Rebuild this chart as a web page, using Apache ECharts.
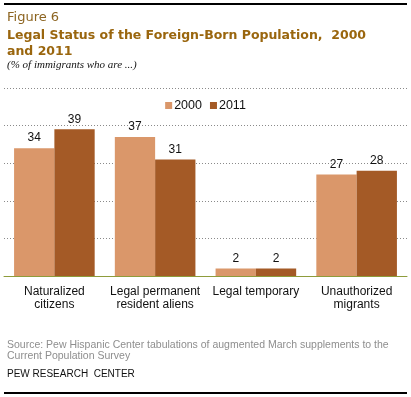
<!DOCTYPE html>
<html>
<head>
<meta charset="utf-8">
<script src="https://cdn.jsdelivr.net/npm/echarts@6/dist/echarts.min.js"></script>
<style>
  html, body { margin: 0; padding: 0; background: #fff; }
  #chart { width: 411px; height: 397px; }
</style>
</head>
<body>
<div id="chart"></div>
<script>
// legal status groups
var categories = ['Naturalized\ncitizens', 'Legal permanent\nresident aliens', 'Legal temporary', 'Unauthorized\nmigrants'];
var years = ['2000', '2011'];
var values2000 = [34, 37, 2, 27];
var values2011 = [39, 31, 2, 28];

var colors = ['#DA976A', '#A45A26'];
var sansFont = 'Liberation Sans';

var chart = echarts.init(document.getElementById('chart'), null, { renderer: 'canvas' });

var option = {
  animation: false,
  color: colors,
  title: [
    {
      text: 'Figure 6',
      left: 2, top: 6,
      textStyle: { fontFamily: 'DejaVu Sans', fontSize: 13, fontWeight: 'normal', color: '#8C6420' }
    },
    {
      text: 'Legal Status of the Foreign-Born Population,  2000\nand 2011',
      left: 2, top: 23,
      textStyle: { fontFamily: 'DejaVu Sans', fontSize: 12.5, fontWeight: 'bold', color: '#9A660E', lineHeight: 16 }
    },
    {
      text: '(% of immigrants who are ...)',
      left: 2, top: 55,
      textStyle: { fontFamily: 'Liberation Serif', fontSize: 11, fontStyle: 'italic', fontWeight: 'normal', color: '#111' }
    },
    {
      text: 'Source: Pew Hispanic Center tabulations of augmented March supplements to the\nCurrent Population Survey',
      left: 2, top: 335,
      textStyle: { fontFamily: sansFont, fontSize: 10.5, fontWeight: 'normal', color: '#8E8E8E', lineHeight: 11 }
    },
    {
      text: 'PEW RESEARCH  CENTER',
      left: 2, top: 364,
      textStyle: { fontFamily: sansFont, fontSize: 10, fontWeight: 'normal', color: '#111' }
    }
  ],
  legend: {
    data: years,
    top: 94,
    left: 'center',
    itemWidth: 7,
    itemHeight: 7,
    itemGap: 8,
    icon: 'rect',
    textStyle: { fontFamily: sansFont, fontSize: 12.5, color: '#111', padding: [0, 0, 0, -3] }
  },
  grid: { left: 4, right: 4, top: 88, bottom: 121, containLabel: false },
  xAxis: {
    type: 'category',
    data: categories,
    axisLine: { lineStyle: { color: '#8E9C3B', width: 1 } },
    axisTick: { show: false },
    axisLabel: {
      interval: 0,
      margin: 9,
      fontFamily: sansFont,
      fontSize: 12,
      lineHeight: 13,
      color: '#111'
    }
  },
  yAxis: {
    type: 'value',
    min: 0,
    max: 50,
    interval: 10,
    axisLabel: { show: false },
    axisLine: { show: false },
    axisTick: { show: false },
    splitLine: { lineStyle: { color: '#8a8a8a', type: [1, 2], width: 1 } }
  },
  series: [
    {
      name: years[0],
      type: 'bar',
      data: values2000,
      barGap: '0%',
      barCategoryGap: '20%',
      label: { show: true, position: 'top', distance: 4, fontFamily: sansFont, fontSize: 12, color: '#111' }
    },
    {
      name: years[1],
      type: 'bar',
      data: values2011,
      barGap: '0%',
      barCategoryGap: '20%',
      label: { show: true, position: 'top', distance: 4, fontFamily: sansFont, fontSize: 12, color: '#111' }
    }
  ],
  graphic: [
    { type: 'line', shape: { x1: 4, y1: 4, x2: 407, y2: 4 }, style: { stroke: '#000', lineWidth: 2 } },
    { type: 'line', shape: { x1: 4, y1: 393, x2: 407, y2: 393 }, style: { stroke: '#000', lineWidth: 2 } }
  ]
};

chart.setOption(option);
</script>
</body>
</html>
